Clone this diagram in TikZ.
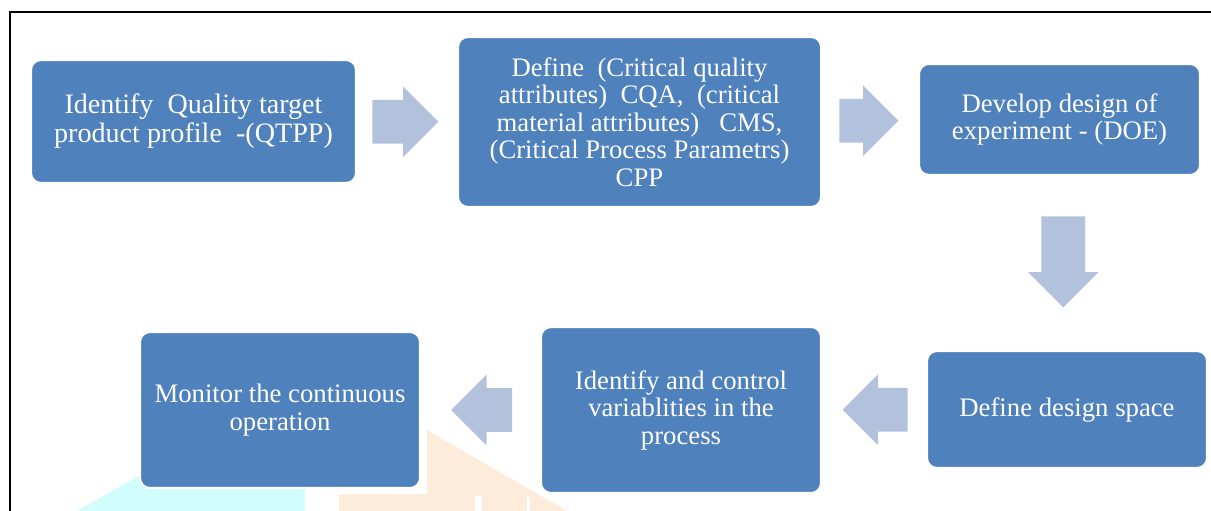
\documentclass[tikz,border=0pt]{standalone}
\usepackage{fontspec}
\setmainfont{Liberation Serif}
\usepackage{tikz}
\usetikzlibrary{shapes.arrows,calc}
\definecolor{boxBlue}{HTML}{4F81BD}
\definecolor{arrowBlue}{HTML}{B2C2DD}
\definecolor{markCyan}{HTML}{D2FDFD}
\definecolor{markOrange}{HTML}{FDECDA}

\begin{document}
\begin{tikzpicture}[x=0.025cm,y=-0.025cm,
  flowBox/.style={draw=white,line width=1.5pt,fill=boxBlue,rounded corners=0.25cm,
    text=white,align=center,inner sep=0pt,font=\fontsize{19}{19.6}\selectfont},
  blockArrow/.style={single arrow,fill=arrowBlue,draw=none,inner xsep=0pt,
    inner ysep=0.5375cm,single arrow head extend=0.3375cm,anchor=tail}]
\useasboundingbox (0,0) rectangle (1211,511);
\draw[line width=1pt] (10,511) -- (10,12) -- (1211,12);
% faint marks behind the lower row
\fill[markCyan] (77,511) -- (140,475) -- (305,475) -- (305,511) -- cycle;
\fill[markOrange] (339,511) -- (339,494) -- (427,494) -- (427,430) -- (567,511) -- cycle;
\fill[white] (475,496) rectangle (482,511);
\fill[white] (527,497) rectangle (530,511);
% steps
\node[flowBox,minimum width=8.125cm,minimum height=3.075cm,font=\fontsize{20}{20.6}\selectfont] (qtpp) at (193.5,121.5)
  {Identify\ \ Quality target\\product profile\ \ -(QTPP)};
\node[flowBox,minimum width=9.075cm,minimum height=4.25cm] (cqa) at (639.5,122)
  {Define\ \ (Critical quality\\attributes)\ \ CQA,\ \ (critical\\material attributes)\ \ \ CMS,\\(Critical Process Parametrs)\\CPP};
\node[flowBox,minimum width=7.025cm,minimum height=2.775cm] (doe) at (1059.5,119.5)
  {Develop design of\\experiment - (DOE)};
\node[flowBox,minimum width=7cm,minimum height=2.925cm] (space) at (1067,409.5)
  {Define design space};
\node[flowBox,minimum width=7cm,minimum height=4.15cm] (control) at (681,410)
  {Identify and control\\variablities in the\\process};
\node[flowBox,minimum width=7cm,minimum height=3.9cm] (monitor) at (280,410)
  {Monitor the continuous\\operation};
% arrows between steps, tail set back by half the length
\node[blockArrow,minimum height=1.65cm] (qtppCqa) at ($(qtpp.east)!0.5!(cqa.west)+(-35,0)$) {};
\node[blockArrow,minimum height=1.475cm] (cqaDoe) at ($(cqa.east)!0.5!(doe.west)+(-31,0)$) {};
\node[blockArrow,minimum height=2.275cm,rotate=-90] (doeSpace) at ($(doe.south)!0.5!(space.north)+(0,-47)$) {};
\node[blockArrow,minimum height=1.625cm,rotate=180] (spaceControl) at ($(space.west)!0.5!(control.east)+(34,0)$) {};
\node[blockArrow,minimum height=1.525cm,rotate=180] (controlMonitor) at ($(control.west)!0.5!(monitor.east)+(32,0)$) {};
\end{tikzpicture}
\end{document}
